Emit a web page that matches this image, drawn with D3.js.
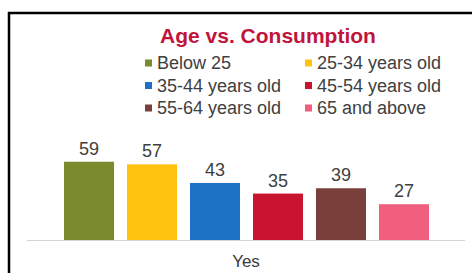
<!DOCTYPE html>
<html><head><meta charset="utf-8">
<script src="https://cdn.jsdelivr.net/npm/d3@7"></script>
<style>body{margin:0;background:#fff}svg{display:block}</style>
</head><body>
<script>
const title = "Age vs. Consumption";
const category = "Yes";
const groups = ["Below 25","25-34 years old","35-44 years old","45-54 years old","55-64 years old","65 and above"];
const values = [59,57,43,35,39,27];
const colors = ["#7B8A2C","#FFC20E","#1E72C4","#C8142E","#7B3F3B","#F0607E"];

const W = 472, H = 273;
const svg = d3.select("body").append("svg").attr("width", W).attr("height", H);
svg.append("rect").attr("width", W).attr("height", H).attr("fill", "#fff");

// frame
svg.append("path").attr("d", `M9,${H} L9,13 L${W},13`).attr("fill","none")
  .attr("stroke","#000").attr("stroke-width",2.5);

const font = "Liberation Sans, Arial, sans-serif";
svg.append("text").attr("x", 268).attr("y", 43).attr("text-anchor","middle")
  .attr("font-family", font).attr("font-weight","bold").attr("font-size",21)
  .attr("fill","#C0143C").text(title);

// legend
const leg = svg.append("g");
groups.forEach((g,i)=>{
  const col = i%2, row = Math.floor(i/2);
  const x = col===0 ? 145 : 305, y = 63 + row*22.5;
  leg.append("rect").attr("x", x).attr("y", y-3.5).attr("width",7).attr("height",7).attr("fill", colors[i]);
  leg.append("text").attr("x", x+12).attr("y", y+6).attr("font-family", font)
    .attr("font-size",18).attr("fill","#404040").text(g);
});

// chart
const x0 = d3.scaleBand().domain([category]).range([27,465]);
const x1 = d3.scaleBand().domain(groups).range([57.5,435.5]).paddingInner(0.206).paddingOuter(0.103);
const y = d3.scaleLinear().domain([0,60]).range([240,160.4]);

svg.append("line").attr("x1",27).attr("x2",465).attr("y1",240.5).attr("y2",240.5)
  .attr("stroke","#d4d4d4").attr("stroke-width",1);

svg.selectAll(".bar").data(values).enter().append("rect")
  .attr("x",(d,i)=>x1(groups[i])).attr("width",x1.bandwidth())
  .attr("y",d=>y(d)).attr("height",d=>y(0)-y(d)).attr("fill",(d,i)=>colors[i]);

svg.selectAll(".lbl").data(values).enter().append("text")
  .attr("x",(d,i)=>x1(groups[i])+x1.bandwidth()/2).attr("y",d=>y(d)-7)
  .attr("text-anchor","middle").attr("font-family",font).attr("font-size",18)
  .attr("fill","#404040").text(d=>d);

svg.append("text").attr("x", x0(category)+x0.bandwidth()/2).attr("y",266.5)
  .attr("text-anchor","middle").attr("font-family",font).attr("font-size",17)
  .attr("fill","#3a3a3a").text(category);
</script>
</body></html>
